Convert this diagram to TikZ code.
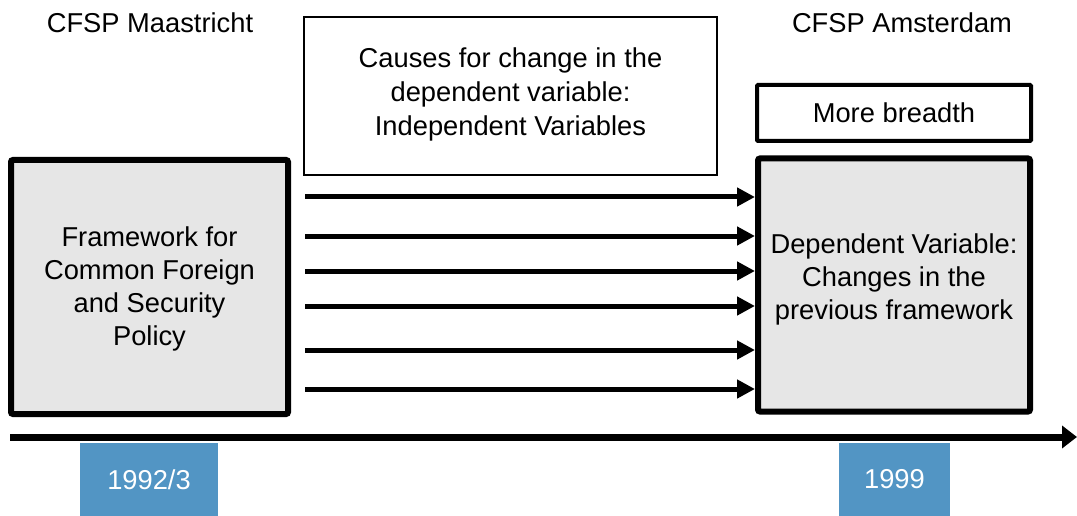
\documentclass[tikz,border=0pt]{standalone}
\usepackage{fontspec}
\setmainfont{Liberation Sans}
\usetikzlibrary{arrows.meta}
\definecolor{boxgray}{RGB}{230,230,230}
\definecolor{yearblue}{RGB}{82,149,196}
\tikzset{
  lbl/.style={font=\fontsize{27.3}{34}\selectfont, align=center, inner sep=0pt},
  framebox/.style={lbl, draw, line width=6pt, fill=boxgray, rounded corners=2pt},
  causebox/.style={lbl, draw, line width=2pt, fill=white},
  notebox/.style={lbl, draw, line width=4pt, fill=white, rounded corners=1pt},
  yearbox/.style={lbl, fill=yearblue, text=white, minimum height=73pt},
  change/.style={line width=5pt, -{Triangle[length=18pt,width=18pt]}},
  timeline/.style={line width=7pt, -{Triangle[length=15pt,width=22pt]}}
}
\begin{document}
\begin{tikzpicture}[x=1pt,y=-1pt]
  \useasboundingbox (0,0) rectangle (1077,516);

  % period labels
  \node[lbl] (maas) at (150,23) {CFSP Maastricht};
  \node[lbl] (amst) at (902,23) {CFSP Amsterdam};

  % explanation box
  \node[causebox, minimum width=413pt, minimum height=158pt] (cause) at (510.5,96) {};
  \node[lbl] (causetxt) at (510.5,94) {Causes for change in the\\dependent variable:\\Independent Variables};

  % old and new framework
  \node[framebox, minimum width=277pt, minimum height=254pt] (L) at (149.5,287) {};
  \node[lbl, font=\fontsize{27.3}{33}\selectfont] (Ltxt) at (149.5,289) {Framework for\\Common Foreign\\and Security\\Policy};

  \node[framebox, minimum width=272pt, minimum height=253pt] (R) at (894,285) {};
  \node[lbl, font=\fontsize{27.3}{33}\selectfont] (Rtxt) at (894,279) {Dependent Variable:\\Changes in the\\previous framework};

  \node[notebox, minimum width=274pt, minimum height=56pt] (more) at (894,113) {More breadth};

  % causal arrows
  \foreach \i/\y in {1/197,2/236,3/271,4/306,5/350,6/389}{
    \coordinate (s\i) at (305,\y);
    \draw[change] (s\i) -- (s\i -| R.west);
  }

  % time axis
  \coordinate (t0) at (10,437);
  \coordinate (t1) at (1077,437);
  \draw[timeline] (t0) -- (t1);

  % years
  \node[yearbox, minimum width=138pt] (y1) at (149,479.5) {1992/3};
  \node[yearbox, minimum width=111pt] (y2) at (894.5,479.5) {1999};
\end{tikzpicture}
\end{document}
